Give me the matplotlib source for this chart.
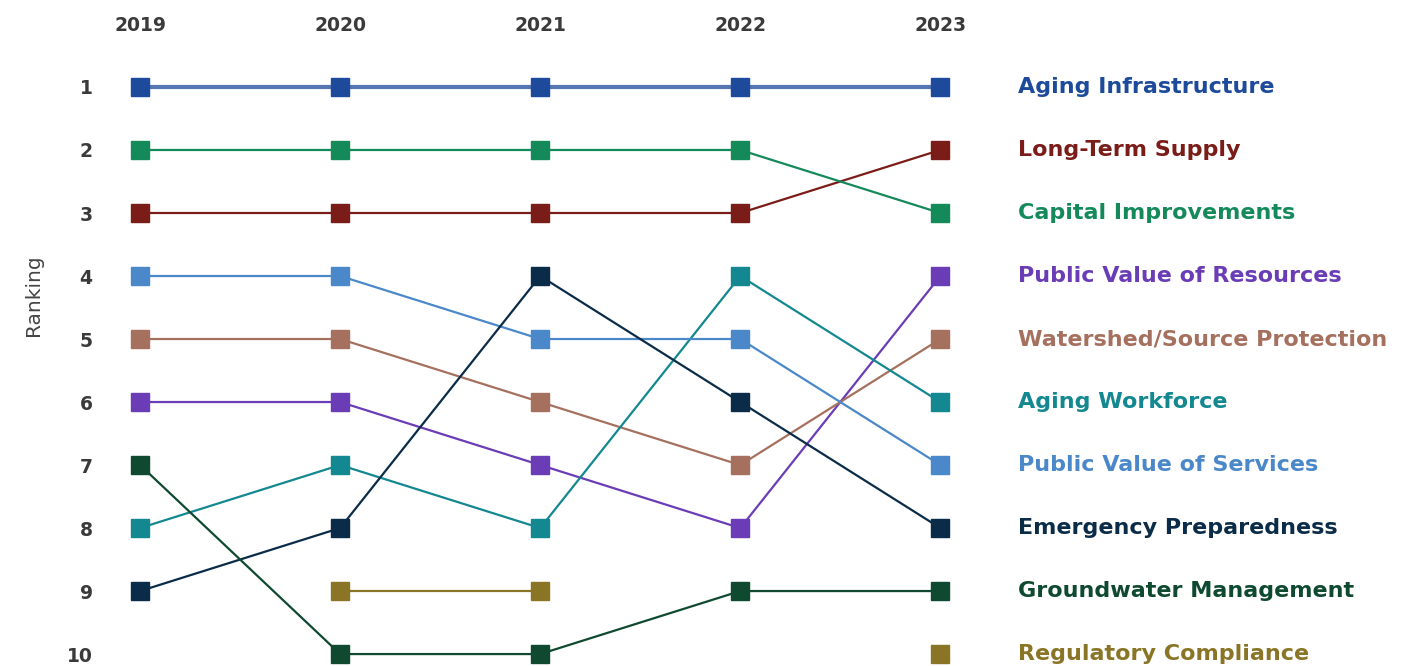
import numpy as np
import matplotlib
matplotlib.use("Agg")
import matplotlib.pyplot as plt

plt.rcParams['font.family'] = ['DejaVu Sans']

# data
years = ['2019', '2020', '2021', '2022', '2023']
nan = np.nan
issues = ['Aging Infrastructure', 'Long-Term Supply', 'Capital Improvements',
          'Public Value of Resources', 'Watershed/Source Protection',
          'Aging Workforce', 'Public Value of Services',
          'Emergency Preparedness', 'Groundwater Management',
          'Regulatory Compliance']
aging_infra = [1, 1, 1, 1, 1]
long_term = [3, 3, 3, 3, 2]
capital = [2, 2, 2, 2, 3]
pv_resources = [6, 6, 7, 8, 4]
watershed = [5, 5, 6, 7, 5]
workforce = [8, 7, 8, 4, 6]
pv_services = [4, 4, 5, 5, 7]
emergency = [9, 8, 4, 6, 8]
groundwater = [7, 10, 10, 9, 9]
regulatory = [nan, 9, 9, nan, 10]

ranks = [aging_infra, long_term, capital, pv_resources, watershed,
         workforce, pv_services, emergency, groundwater, regulatory]
colors = ['#1d4a9a', '#7a1c18', '#148a5a', '#6a3db6', '#a6705e',
          '#138890', '#4a88c9', '#0b2c48', '#0f4a30', '#8a7425']
widths = [3.0, 1.6, 1.6, 1.6, 1.6, 1.6, 1.6, 1.6, 1.6, 1.6]

fig = plt.figure(figsize=(14.04, 6.66), dpi=100)
ax = fig.add_axes([0.067, 0.00375, 0.674, 0.9224])

x = np.arange(len(years))
for r, c, w in zip(ranks, colors, widths):
    ax.plot(x, r, color=c, lw=w, alpha=0.75 if w > 2 else 1, zorder=2)
for r, c in zip(ranks, colors):
    ax.plot(x, r, ls='none', marker='s', ms=12.5, color=c, zorder=3)

# labels on the right, at the last ranking
last = [10 if np.isnan(r[-1]) else r[-1] for r in ranks]
for name, c, y in zip(issues, colors, last):
    ax.text(4.39, y, name, color=c, fontsize=16, fontweight='bold',
            va='center', ha='left', clip_on=False)

ax.set_xlim(-0.23, 4.5)
ax.set_ylim(10.15, 0.4)
ax.set_xticks(x)
ax.set_xticklabels(years, fontweight='bold', fontsize=13.5, color='#3a3a3a')
ax.xaxis.tick_top()
ax.set_yticks(range(1, 11))
ax.set_yticklabels([str(i) for i in range(1, 11)], fontweight='bold',
                   fontsize=13.5, color='#3a3a3a')
ax.tick_params(axis='x', length=0, pad=10)
ax.tick_params(axis='y', length=0, pad=1)
ax.set_ylabel('Ranking', fontsize=14.5, color='#444444')
ax.yaxis.set_label_coords(-0.054, 0.60)
for s in ax.spines.values():
    s.set_visible(False)

fig.savefig('out.png', dpi=100)
